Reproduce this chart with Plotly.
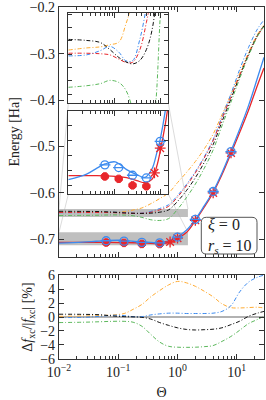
import plotly.graph_objects as go
import math

# ---------------- data ----------------
theta_model = [0.01, 0.025, 0.05, 0.08, 0.126, 0.178, 0.251, 0.355, 0.501, 0.708,
               1.0, 1.41, 2.0, 2.82, 3.98, 5.62, 7.94, 11.2, 15.8, 22.4, 28.8]
E_red_dd = [-0.6423, -0.6423, -0.6424, -0.6426, -0.6434, -0.6440, -0.6440, -0.6418, -0.6365, -0.6290,
            -0.6090, -0.5850, -0.5570, -0.5250, -0.4880, -0.4400, -0.3940, -0.3470, -0.3020, -0.2620, -0.2420]
E_orange_dd = [-0.6417, -0.6413, -0.6411, -0.6407, -0.6402, -0.6369, -0.6324, -0.6232, -0.6123, -0.6001,
               -0.5779, -0.5563, -0.5325, -0.5056, -0.4738, -0.4315, -0.3886, -0.3424, -0.2978, -0.2583, -0.2389]
E_blue_dd = [-0.6428, -0.6426, -0.6418, -0.6410, -0.6421, -0.6437, -0.6437, -0.6399, -0.6336, -0.6255,
             -0.6057, -0.5821, -0.5542, -0.5224, -0.4853, -0.4364, -0.3876, -0.3342, -0.2866, -0.2468, -0.2275]
E_black_dd = [-0.6397, -0.6399, -0.6403, -0.6416, -0.6431, -0.6439, -0.6443, -0.6437, -0.6416, -0.6366,
              -0.6184, -0.5954, -0.5674, -0.5346, -0.4965, -0.4469, -0.3984, -0.3491, -0.3017, -0.2605, -0.2401]
E_green_dd = [-0.6487, -0.6484, -0.6480, -0.6474, -0.6478, -0.6492, -0.6528, -0.6579, -0.6594, -0.6554,
              -0.6354, -0.6105, -0.5811, -0.5473, -0.5080, -0.4557, -0.4053, -0.3538, -0.3049, -0.2629, -0.2418]

pct_orange = [0.1, 0.15, 0.2, 0.3, 0.5, 1.1, 1.8, 2.9, 3.8, 4.6, 5.1, 4.9, 4.4, 3.7, 2.9, 1.9, 1.35, 1.3, 1.35, 1.4, 1.3]
pct_blue = [-0.08, -0.05, 0.1, 0.25, 0.2, 0.05, 0.05, 0.3, 0.45, 0.55, 0.55, 0.5, 0.5, 0.5, 0.55, 0.8, 1.6, 3.6, 5.0, 5.7, 6.0]
pct_black = [0.4, 0.38, 0.32, 0.15, 0.05, 0.02, -0.05, -0.3, -0.8, -1.2, -1.55, -1.78, -1.86, -1.82, -1.75, -1.55, -1.1, -0.6, 0.1, 0.55, 0.8]
pct_green = [-0.8, -0.75, -0.68, -0.62, -0.62, -0.75, -1.33, -2.5, -3.6, -4.2, -4.33, -4.35, -4.33, -4.25, -4.1, -3.5, -2.8, -1.9, -0.95, -0.35, 0.1]
pct_zero = [0.0] * len(theta_model)

theta_fit = [0.01, 0.025, 0.042, 0.063, 0.105, 0.186, 0.309, 0.468, 0.661, 0.844,
             1.0, 1.43, 2.0, 2.82, 3.98, 5.62, 7.94, 11.2, 15.8, 22.4, 28.8]
E_fit_blue = [-0.7081, -0.7062, -0.7042, -0.7028, -0.7021, -0.7047, -0.7064, -0.7073, -0.7045, -0.6990,
              -0.6945, -0.6800, -0.6570, -0.6280, -0.5970, -0.5570, -0.5110, -0.4630, -0.4120, -0.3520, -0.3080]
E_fit_red = [-0.7067, -0.7067, -0.7067, -0.7068, -0.7070, -0.7074, -0.7084, -0.7091, -0.7080, -0.7035,
             -0.6985, -0.6850, -0.6600, -0.6310, -0.6000, -0.5610, -0.5160, -0.4700, -0.4220, -0.3680, -0.3310]

theta_blue_pts = [0.0625, 0.125, 0.25, 0.5, 1.0, 2.0, 4.0, 8.0]
E_blue_pts = [-0.7031, -0.7040, -0.7066, -0.7075, -0.6952, -0.657, -0.597, -0.511]
theta_red_filled = [0.0625, 0.125, 0.25, 0.5]
E_red_filled = [-0.7070, -0.7078, -0.7100, -0.7103]
theta_red_x = [0.75, 1.0, 2.0, 4.0, 8.0]
E_red_x = [-0.7058, -0.6975, -0.659, -0.600, -0.514]

x_tick_vals = [0.01, 0.1, 1, 10]
x_tick_text = ["10<sup>−2</sup>", "10<sup>−1</sup>", "10<sup>0</sup>", "10<sup>1</sup>"]

# zoom windows (insets)
inset_theta = [0.01, 1.5]
inset1_E = [-0.6517, -0.6348]
inset2_E = [-0.7130, -0.6850]

# ---------------- style ----------------
C_BLUE = "#3d8bef"
C_RED = "#e8262b"
C_ORANGE = "#ffac33"
C_GREEN = "#5cb85c"
C_BLACK = "#111111"
DD = "4px,2px,1px,2px"
FONT = "Liberation Serif"

W, H = 266, 400
ML, MR, MT, MB = 59, 2, 7, 41
PW, PH = W - ML - MR, H - MT - MB
XR = [-2, 1.46]
YR_MAIN = [-0.7375, -0.1995]
DOM_MAIN = [(359 - 256.7) / PH, 1.0]
DOM_BOT = [0.0, (359 - 275) / PH]
DOM_IX = [(68.3 - ML) / PW, (168.3 - ML) / PW]
DOM_I1 = [(359 - 103.3) / PH, (359 - 13.3) / PH]
DOM_I2 = [(359 - 194.3) / PH, (359 - 111) / PH]

fig = go.Figure()

dd_curves = [(E_orange_dd, C_ORANGE), (E_blue_dd, C_BLUE), (E_red_dd, C_RED),
             (E_black_dd, C_BLACK), (E_green_dd, C_GREEN)]
pct_curves = [(pct_orange, C_ORANGE), (pct_blue, C_BLUE), (pct_black, C_BLACK), (pct_green, C_GREEN)]


def add_set(xa, ya, with_markers):
    for E, c in dd_curves:
        fig.add_trace(go.Scatter(x=theta_model, y=E, mode="lines", xaxis=xa, yaxis=ya,
                                 line=dict(color=c, width=1, dash=DD, shape="spline", smoothing=1.0),
                                 showlegend=False, hoverinfo="skip"))
    if with_markers:
        fig.add_trace(go.Scatter(x=theta_fit, y=E_fit_red, mode="lines", xaxis=xa, yaxis=ya,
                                 line=dict(color=C_RED, width=1.3, shape="spline", smoothing=1.0),
                                 showlegend=False))
        fig.add_trace(go.Scatter(x=theta_fit, y=E_fit_blue, mode="lines", xaxis=xa, yaxis=ya,
                                 line=dict(color=C_BLUE, width=1.3, shape="spline", smoothing=1.0),
                                 showlegend=False))
        fig.add_trace(go.Scatter(x=theta_red_filled, y=E_red_filled, mode="markers", xaxis=xa, yaxis=ya,
                                 marker=dict(symbol="octagon", size=8, color=C_RED,
                                             line=dict(color=C_RED, width=1)), showlegend=False))
        fig.add_trace(go.Scatter(x=theta_red_x, y=E_red_x, mode="markers", xaxis=xa, yaxis=ya,
                                 marker=dict(symbol="asterisk-open", size=9, color=C_RED,
                                             line=dict(color=C_RED, width=1.3)), showlegend=False))
        fig.add_trace(go.Scatter(x=theta_blue_pts, y=E_blue_pts, mode="markers", xaxis=xa, yaxis=ya,
                                 marker=dict(symbol="circle-open", size=8, color=C_BLUE,
                                             line=dict(color=C_BLUE, width=1.3)), showlegend=False))
        fig.add_trace(go.Scatter(x=theta_blue_pts, y=E_blue_pts, mode="markers", xaxis=xa, yaxis=ya,
                                 marker=dict(symbol="line-ew-open", size=8, color=C_BLUE,
                                             line=dict(color=C_BLUE, width=1.3)), showlegend=False))


# main panel
add_set("x", "y", True)
# bottom panel
fig.add_trace(go.Scatter(x=theta_model, y=pct_zero, mode="lines", xaxis="x2", yaxis="y2",
                         line=dict(color="#999999", width=1.5), showlegend=False))
for p, c in pct_curves:
    fig.add_trace(go.Scatter(x=theta_model, y=p, mode="lines", xaxis="x2", yaxis="y2",
                             line=dict(color=c, width=1, dash=DD, shape="spline", smoothing=1.0),
                             showlegend=False, hoverinfo="skip"))
# insets
add_set("x3", "y3", False)
add_set("x4", "y4", True)

tickfont = dict(family=FONT, size=14, color="#222")
common_ax = dict(showline=True, linecolor="#333", linewidth=1.2, mirror="ticks", ticks="inside",
                 tickcolor="#333", showgrid=False, zeroline=False, tickfont=tickfont, automargin=False)
logx = dict(type="log", range=XR, tickvals=x_tick_vals, ticktext=x_tick_text,
            minor=dict(ticks="inside", ticklen=3, tickcolor="#333", dtick="D1", showgrid=False))
inset_logx = dict(type="log", range=[math.log10(inset_theta[0]), math.log10(inset_theta[1])],
                  tickvals=x_tick_vals,
                  minor=dict(ticks="inside", ticklen=3, tickcolor="#333", dtick="D1", showgrid=False))

fig.update_layout(
    width=W, height=H, margin=dict(l=ML, r=MR, t=MT, b=MB),
    paper_bgcolor="white", plot_bgcolor="white",
    font=dict(family=FONT, size=14, color="#222"),
    xaxis=dict(**common_ax, **logx, domain=[0, 1], anchor="y", showticklabels=False, ticklen=5),
    yaxis=dict(**common_ax, domain=DOM_MAIN, anchor="x", range=YR_MAIN, dtick=0.1, tick0=-0.7,
               tickformat=".1f", ticklen=5,
               title=dict(text="Energy [Ha]", font=dict(family=FONT, size=14), standoff=6)),
    xaxis2=dict(**common_ax, **logx, domain=[0, 1], anchor="y2", ticklen=5,
                title=dict(text="Θ", font=dict(family=FONT, size=14), standoff=8)),
    yaxis2=dict(**common_ax, domain=DOM_BOT, anchor="x2", range=[-6.02, 6.02], dtick=2, ticklen=5,
                title=dict(text="Δ<i>f</i><sub>xc</sub>/|<i>f</i><sub>xc</sub>| [%]",
                           font=dict(family=FONT, size=14), standoff=4)),
    xaxis3=dict(**common_ax, **inset_logx, domain=DOM_IX, anchor="y3", showticklabels=False, ticklen=5),
    yaxis3=dict(**common_ax, domain=DOM_I1, anchor="x3", range=inset1_E, dtick=0.0025, tick0=-0.65,
                showticklabels=False, ticklen=4),
    xaxis4=dict(**common_ax, **inset_logx, domain=DOM_IX, anchor="y4", showticklabels=False, ticklen=5),
    yaxis4=dict(**common_ax, domain=DOM_I2, anchor="x4", range=inset2_E, dtick=0.005, tick0=-0.71,
                showticklabels=False, ticklen=4),
)


# helpers to place connector lines in paper coordinates
def px_main(theta):
    return (math.log10(theta) - XR[0]) / (XR[1] - XR[0])


def py_main(E):
    return DOM_MAIN[0] + (E - YR_MAIN[0]) / (YR_MAIN[1] - YR_MAIN[0]) * (DOM_MAIN[1] - DOM_MAIN[0])


shapes = []
for rng in (inset1_E, inset2_E):
    shapes.append(dict(type="rect", xref="x", yref="y", x0=inset_theta[0], x1=inset_theta[1],
                       y0=rng[0], y1=rng[1], fillcolor="rgba(170,170,170,0.75)", line=dict(width=0),
                       layer="below"))
for dom, rng in ((DOM_I1, inset1_E), (DOM_I2, inset2_E)):
    for xi, th in ((DOM_IX[0], inset_theta[0]), (DOM_IX[1], inset_theta[1])):
        shapes.append(dict(type="line", xref="paper", yref="paper", x0=xi, y0=dom[0],
                           x1=px_main(th), y1=py_main(rng[1]),
                           line=dict(color="rgba(180,180,180,0.6)", width=0.8), layer="below"))

# rounded label box
bx0, bx1 = (201.3 - ML) / PW, (257 - ML) / PW
by0, by1 = (359 - 254) / PH, (359 - 217.3) / PH
rx, ry = 5 / PW, 5 / PH
path = (f"M {bx0+rx},{by0} L {bx1-rx},{by0} Q {bx1},{by0} {bx1},{by0+ry} "
        f"L {bx1},{by1-ry} Q {bx1},{by1} {bx1-rx},{by1} L {bx0+rx},{by1} "
        f"Q {bx0},{by1} {bx0},{by1-ry} L {bx0},{by0+ry} Q {bx0},{by0} {bx0+rx},{by0} Z")
shapes.append(dict(type="path", xref="paper", yref="paper", path=path,
                   fillcolor="white", line=dict(color="#555", width=1), layer="above"))
fig.update_layout(shapes=shapes)

fig.add_annotation(xref="paper", yref="paper", x=(bx0 + bx1) / 2 + 0.005, y=(by0 + by1) / 2,
                   text="<i>ξ</i> = 0<br><i>r<sub>s</sub></i> = 10", showarrow=False, align="left",
                   font=dict(family=FONT, size=16, color="#222"), xanchor="center", yanchor="middle")

fig.write_html("out.html", config={"displayModeBar": False},
               post_script="document.body.style.margin='0px';document.body.style.overflow='hidden';")
